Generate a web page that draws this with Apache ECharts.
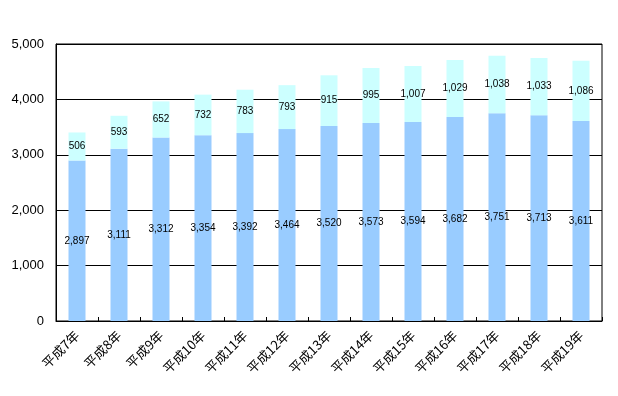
<!DOCTYPE html>
<html><head><meta charset="utf-8">
<script src="https://cdn.jsdelivr.net/npm/echarts@6/dist/echarts.min.js"></script>
<style>html,body{margin:0;padding:0;background:#fff}#c{width:618px;height:396px}</style>
</head><body><div id="c"></div>
<script>
const categories = ['平成7年','平成8年','平成9年','平成10年','平成11年','平成12年','平成13年','平成14年','平成15年','平成16年','平成17年','平成18年','平成19年'];
const lowerValues = [2897,3111,3312,3354,3392,3464,3520,3573,3594,3682,3751,3713,3611];
const upperValues = [506,593,652,732,783,793,915,995,1007,1029,1038,1033,1086];
const yTicks = {min:0, max:5000, interval:1000};

const fmt = v => v.toLocaleString('en-US');
const chart = echarts.init(document.getElementById('c'), null, {renderer:'canvas'});
const labelStyle = {show:true, position:'inside', color:'#000', fontSize:10, fontFamily:'Liberation Sans, Arial, sans-serif', formatter:p=>fmt(p.value)};
chart.setOption({
  animation:false,
  backgroundColor:'#fff',
  grid:{left:56, right:16, top:44, bottom:75, show:true, borderColor:'#000', borderWidth:1},
  xAxis:{type:'category', data:categories,
    axisLine:{lineStyle:{color:'#000', width:1}},
    axisTick:{show:true, inside:true, length:4, lineStyle:{color:'#000'}},
    axisLabel:{rotate:45, color:'#000', fontSize:13, fontFamily:'Noto Sans CJK JP, sans-serif', margin:12, interval:0}},
  yAxis:{type:'value', min:yTicks.min, max:yTicks.max, interval:yTicks.interval,
    axisLine:{show:true, lineStyle:{color:'#000'}},
    axisTick:{show:false},
    splitLine:{lineStyle:{color:'#000', width:1}},
    axisLabel:{color:'#000', fontSize:13, fontFamily:'Liberation Sans, Arial, sans-serif', margin:12, formatter:v=>fmt(v)}},
  series:[
    {type:'bar', stack:'a', data:lowerValues, barWidth:17, itemStyle:{color:'#99CCFF'}, label:labelStyle},
    {type:'bar', stack:'a', data:upperValues, barWidth:17, itemStyle:{color:'#CCFFFF'}, label:labelStyle}
  ]
});
</script></body></html>
